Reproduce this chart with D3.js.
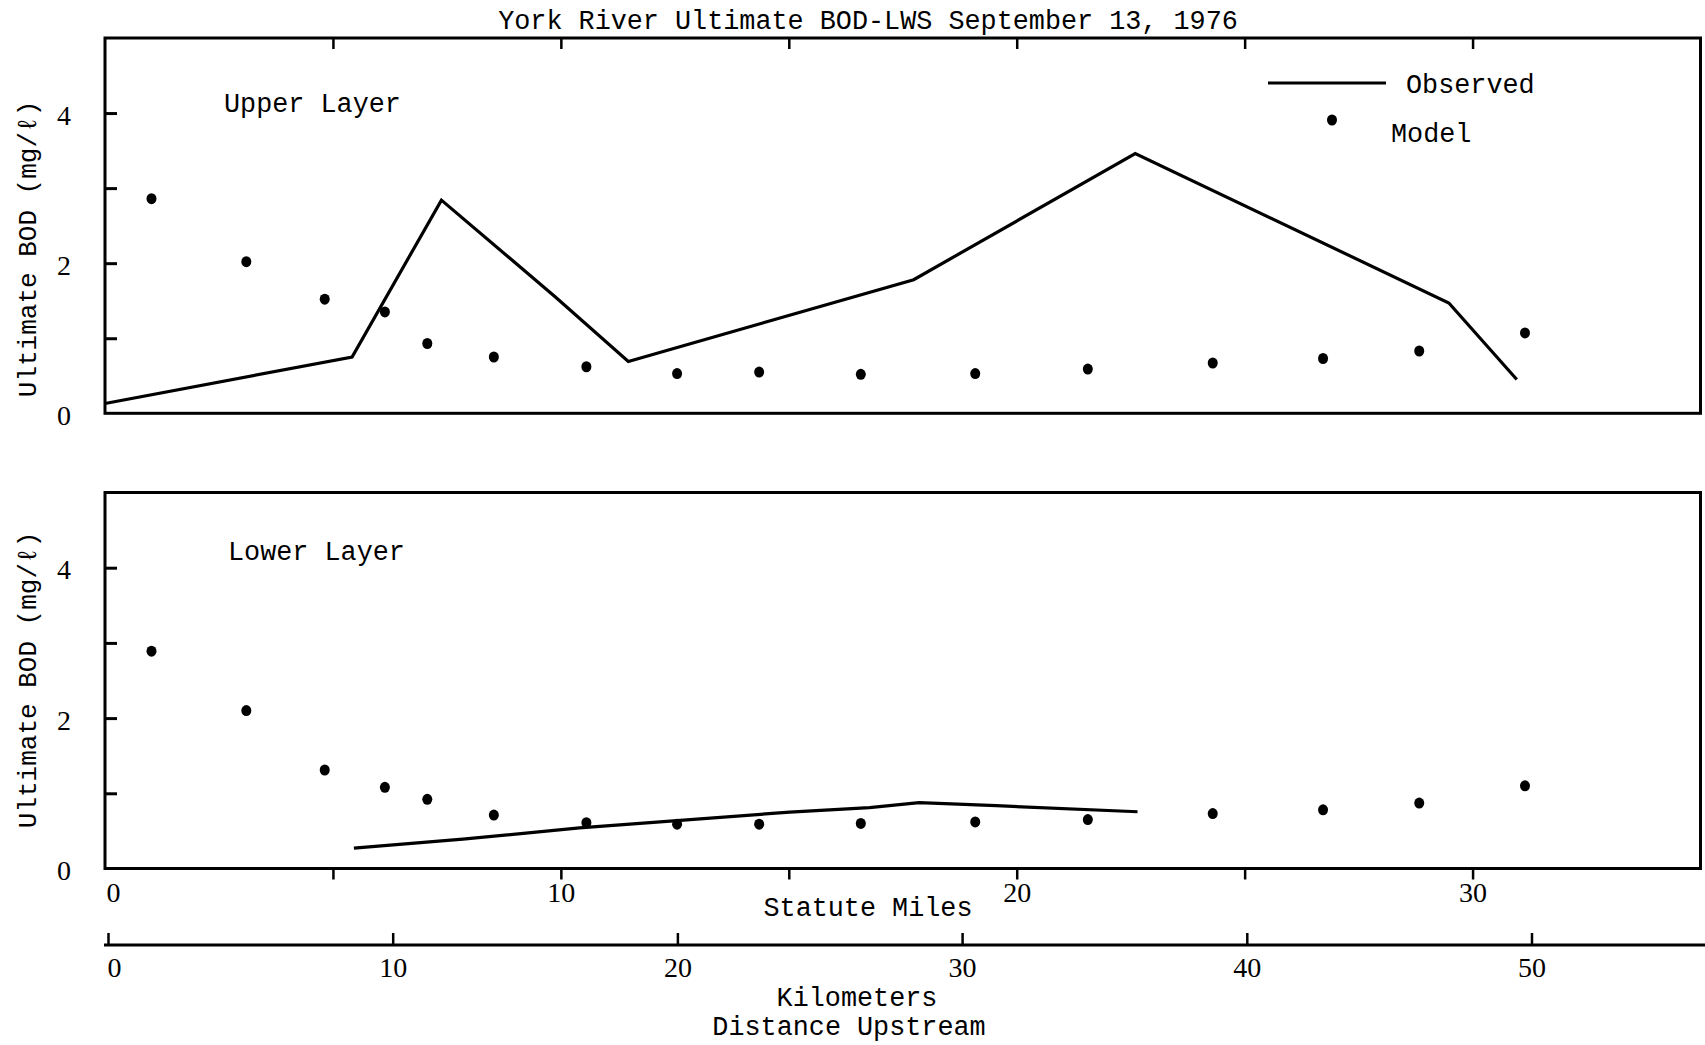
<!DOCTYPE html>
<html>
<head>
<meta charset="utf-8">
<script src="https://cdn.jsdelivr.net/npm/d3@7"></script>
<style>
  html, body { margin: 0; padding: 0; background: #fff; }
  svg { display: block; }
  .mono { font-family: "Liberation Mono", "DejaVu Sans Mono", monospace; font-size: 26.8px; fill: #000; }
  .ytitle { font-size: 26px; }
  .num text { font-family: "Liberation Serif", "DejaVu Serif", serif; font-size: 28px; fill: #000; }
</style>
</head>
<body>
<svg id="chart" width="1705" height="1045"></svg>
<script>
// York River ultimate BOD, observed vs. model, upper and lower layers
const chartTitle = "York River Ultimate BOD-LWS September 13, 1976";
const yAxisTitle = "Ultimate BOD (mg/\u2113)";

// model stations (statute miles upstream)
const modelMiles = [1.02, 3.1, 4.82, 6.14, 7.07, 8.53, 10.56, 12.55, 14.35, 16.58, 19.09, 21.56, 24.3, 26.72, 28.83, 31.15];
const upperModel = [2.86, 2.02, 1.52, 1.35, 0.93, 0.75, 0.62, 0.53, 0.55, 0.52, 0.53, 0.59, 0.67, 0.73, 0.83, 1.07];
const lowerModel = [2.89, 2.10, 1.31, 1.08, 0.92, 0.71, 0.61, 0.59, 0.59, 0.60, 0.62, 0.65, 0.73, 0.78, 0.87, 1.10];

// observed profiles
const upperObsMiles = [0, 5.42, 7.38, 9.88, 11.48, 17.74, 22.6, 29.48, 30.97];
const upperObs      = [0.13, 0.75, 2.84, 1.55, 0.69, 1.78, 3.46, 1.47, 0.45];
const lowerObsMiles = [5.46, 7.85, 10.41, 15.02, 16.77, 17.86, 19.55, 22.65];
const lowerObs      = [0.27, 0.39, 0.54, 0.75, 0.81, 0.875, 0.835, 0.755];

// axis ticks
const bodTicks = [1, 2, 3, 4];
const bodLabels = [0, 2, 4];
const mileTicks = [5, 10, 15, 20, 25, 30];
const mileLabels = [0, 10, 20, 30];
const kmTicks = [0, 10, 20, 30, 40, 50];

const svg = d3.select("#chart");

const x = d3.scaleLinear().domain([0, 35]).range([105, 1700.5]);
const xKm = d3.scaleLinear().domain([0, 56.2]).range([108, 1708]);

const panels = [
  { top: 38, bottom: 413.3, label: "Upper Layer", labelX: 224, labelY: 112,
    obsX: upperObsMiles, obsY: upperObs, model: upperModel, titleY: 249 },
  { top: 492.5, bottom: 868.5, label: "Lower Layer", labelX: 228, labelY: 560,
    obsX: lowerObsMiles, obsY: lowerObs, model: lowerModel, titleY: 680 }
];

panels.forEach((p, i) => {
  const y = d3.scaleLinear().domain([0, 5]).range([p.bottom, p.top]);
  const g = svg.append("g");

  // frame
  g.append("rect")
    .attr("x", x(0)).attr("y", y(5))
    .attr("width", x(35) - x(0)).attr("height", y(0) - y(5))
    .attr("fill", "none").attr("stroke", "#000").attr("stroke-width", 3);

  // inward ticks on the left edge
  const yTickG = g.append("g").attr("transform", `translate(${x(0)},0)`)
    .call(d3.axisLeft(y).tickValues(bodTicks).tickSize(-12).tickFormat(""));
  yTickG.select(".domain").remove();
  yTickG.selectAll("line").attr("stroke", "#000").attr("stroke-width", 3);

  // value labels
  const yLab = g.append("g").attr("class", "num").attr("transform", `translate(${x(0)},2)`)
    .call(d3.axisLeft(y).tickValues(bodLabels).tickSize(0).tickPadding(34).tickFormat(d3.format("d")));
  yLab.select(".domain").remove();

  // top ticks on the upper panel
  if (i === 0) {
    const tg = g.append("g").attr("transform", `translate(0,${y(5)})`)
      .call(d3.axisBottom(x).tickValues(mileTicks).tickSize(11).tickFormat(""));
    tg.select(".domain").remove();
    tg.selectAll("line").attr("stroke", "#000").attr("stroke-width", 2.5);
  }

  // observed line
  const obs = p.obsX.map((m, k) => [m, p.obsY[k]]);
  g.append("path")
    .datum(obs)
    .attr("fill", "none").attr("stroke", "#000").attr("stroke-width", 3.2)
    .attr("stroke-linejoin", "miter")
    .attr("d", d3.line().x(d => x(d[0])).y(d => y(d[1])));

  // model points
  g.selectAll("ellipse.model")
    .data(modelMiles.map((m, k) => [m, p.model[k]]))
    .join("ellipse")
    .attr("class", "model")
    .attr("cx", d => x(d[0])).attr("cy", d => y(d[1]))
    .attr("rx", 5).attr("ry", 5.5).attr("fill", "#000");

  // layer label
  g.append("text").attr("class", "mono")
    .attr("x", p.labelX).attr("y", p.labelY).text(p.label);

  // y axis title
  g.append("text").attr("class", "mono ytitle")
    .attr("text-anchor", "middle")
    .attr("transform", `translate(36,${p.titleY}) rotate(-90)`)
    .text(yAxisTitle);

  // bottom scale under the lower panel
  if (i === 1) {
    const bt = g.append("g").attr("transform", `translate(0,${y(0)})`)
      .call(d3.axisBottom(x).tickValues(mileTicks).tickSize(11).tickFormat(""));
    bt.select(".domain").remove();
    bt.selectAll("line").attr("stroke", "#000").attr("stroke-width", 2.5);

    const bl = g.append("g").attr("class", "num").attr("transform", `translate(0,${y(0)})`)
      .call(d3.axisBottom(x).tickValues(mileLabels).tickSize(0).tickPadding(14).tickFormat(d3.format("d")));
    bl.select(".domain").remove();
    bl.selectAll(".tick").filter(d => d === 0).select("text").attr("dx", 8);
  }
});

// title
svg.append("text").attr("class", "mono")
  .attr("x", 868).attr("y", 29).attr("text-anchor", "middle")
  .text(chartTitle);

// legend
svg.append("line")
  .attr("x1", 1268).attr("x2", 1386).attr("y1", 83).attr("y2", 83)
  .attr("stroke", "#000").attr("stroke-width", 3);
svg.append("text").attr("class", "mono").attr("x", 1406).attr("y", 93).text("Observed");
svg.append("ellipse").attr("cx", 1332).attr("cy", 120).attr("rx", 5).attr("ry", 5.5).attr("fill", "#000");
svg.append("text").attr("class", "mono").attr("x", 1391).attr("y", 142).text("Model");

// statute miles caption
svg.append("text").attr("class", "mono")
  .attr("x", 868).attr("y", 916).attr("text-anchor", "middle").text("Statute Miles");

// kilometre scale
const kmY = 945;
svg.append("line")
  .attr("x1", 104).attr("x2", 1705).attr("y1", kmY).attr("y2", kmY)
  .attr("stroke", "#000").attr("stroke-width", 3);
const kt = svg.append("g").attr("transform", `translate(0,${kmY})`)
  .call(d3.axisTop(xKm).tickValues(kmTicks).tickSize(12).tickFormat(""));
kt.select(".domain").remove();
kt.selectAll("line").attr("stroke", "#000").attr("stroke-width", 2.5);
const kl = svg.append("g").attr("class", "num").attr("transform", `translate(0,${kmY})`)
  .call(d3.axisBottom(xKm).tickValues(kmTicks).tickSize(0).tickPadding(12).tickFormat(d3.format("d")));
kl.select(".domain").remove();
kl.selectAll(".tick").filter(d => d === 0).select("text").attr("dx", 6);

svg.append("text").attr("class", "mono")
  .attr("x", 857).attr("y", 1006).attr("text-anchor", "middle").text("Kilometers");
svg.append("text").attr("class", "mono")
  .attr("x", 849).attr("y", 1035).attr("text-anchor", "middle").text("Distance Upstream");
</script>
</body>
</html>
